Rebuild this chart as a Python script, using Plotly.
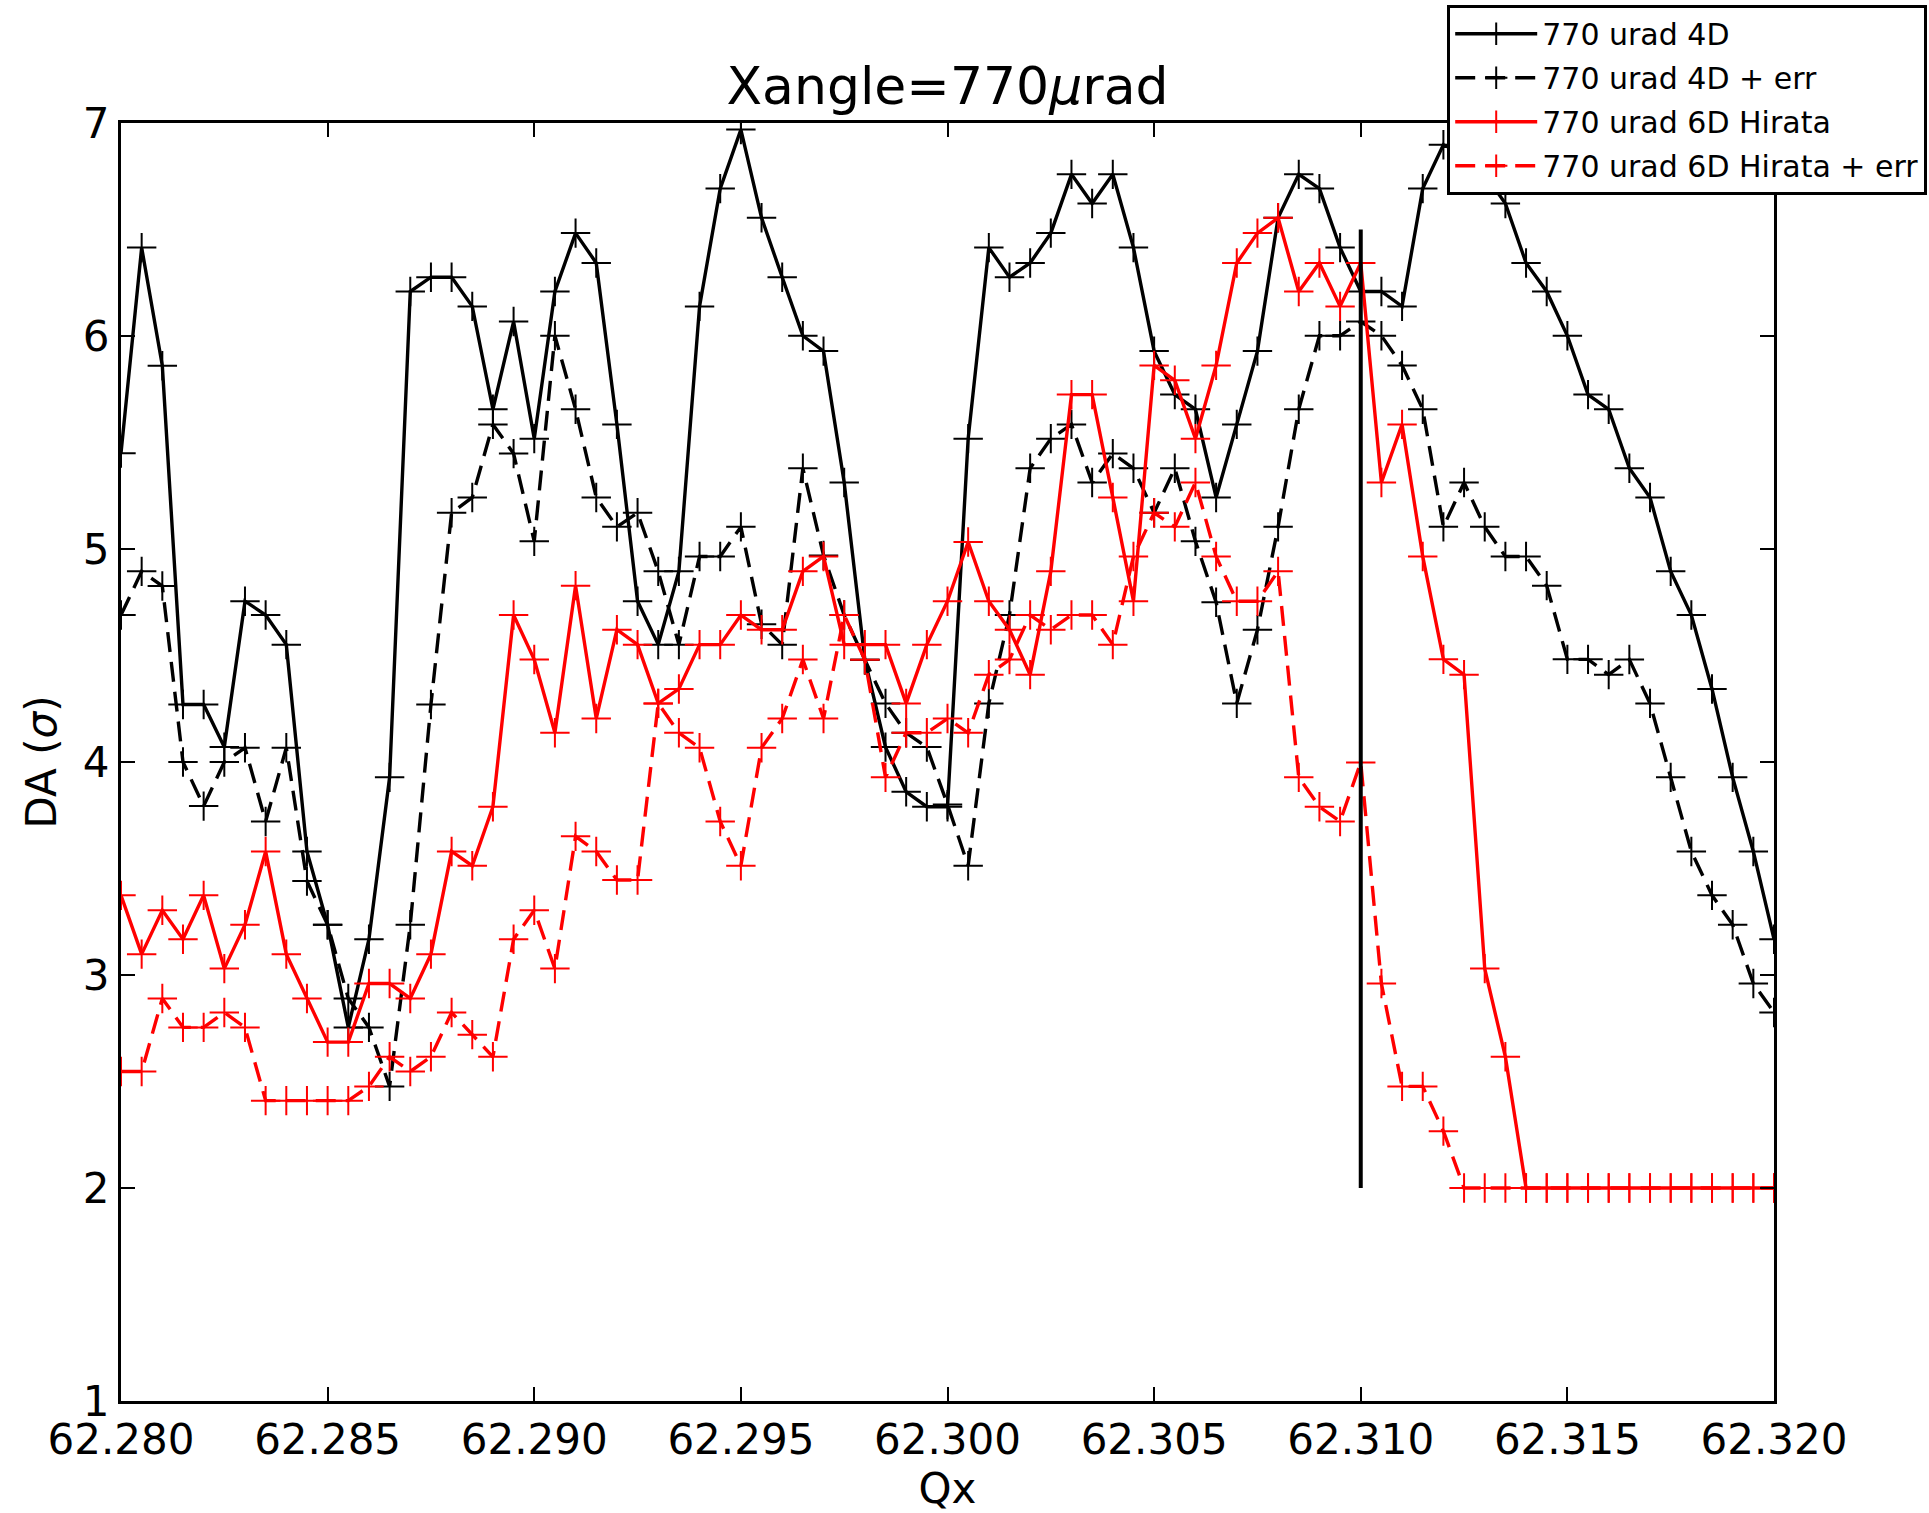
import plotly.graph_objects as go

# ---- data ----
# Qx grid: 62.280 .. 62.320 in steps of 0.0005 (81 points)
qx = [round(62.280 + 0.0005 * i, 4) for i in range(81)]

da_4d = [5.45, 6.415, 5.86, 4.27, 4.27, 4.07, 4.755, 4.69, 4.551, 3.58,
         3.236, 2.754, 3.168, 3.928, 6.209, 6.276, 6.276, 6.139, 5.656, 6.068,
         5.518, 6.209, 6.483, 6.343, 5.585, 4.755, 4.551, 4.895, 6.139, 6.692,
         6.969, 6.555, 6.276, 6.001, 5.929, 5.312, 4.48, 4.07, 3.86, 3.79,
         3.79, 5.518, 6.415, 6.276, 6.343, 6.483, 6.759, 6.622, 6.759, 6.415,
         5.929, 5.725, 5.656, 5.242, 5.585, 5.929, 6.555, 6.759, 6.692, 6.415,
         6.209, 6.209, 6.139, 6.692, 6.898, 6.85, 6.76, 6.622, 6.343, 6.209,
         6.001, 5.725, 5.656, 5.379, 5.242, 4.895, 4.69, 4.343, 3.928, 3.58,
         3.168]

da_4d_err = [4.69, 4.895, 4.826, 4.0, 3.793, 4.0, 4.067, 3.721, 4.067, 3.441,
             3.236, 2.89, 2.754, 2.477, 3.236, 4.27, 5.17, 5.242, 5.585, 5.448,
             5.036, 6.001, 5.656, 5.242, 5.104, 5.17, 4.895, 4.551, 4.965, 4.965,
             5.104, 4.647, 4.551, 5.379, 4.97, 4.69, 4.48, 4.275, 4.137, 4.07,
             3.8, 3.513, 4.275, 4.69, 5.379, 5.518, 5.585, 5.312, 5.448, 5.379,
             5.17, 5.379, 5.036, 4.75, 4.275, 4.621, 5.104, 5.656, 6.001, 6.001,
             6.068, 6.001, 5.862, 5.656, 5.104, 5.312, 5.104, 4.965, 4.965, 4.828,
             4.482, 4.482, 4.41, 4.481, 4.275, 3.928, 3.58, 3.374, 3.236, 2.96,
             2.824]

da_6d = [3.374, 3.098, 3.304, 3.168, 3.374, 3.03, 3.236, 3.58, 3.098, 2.89,
         2.685, 2.685, 2.96, 2.96, 2.89, 3.098, 3.58, 3.513, 3.79, 4.69,
         4.481, 4.137, 4.828, 4.204, 4.621, 4.551, 4.275, 4.343, 4.551, 4.551,
         4.69, 4.621, 4.621, 4.895, 4.965, 4.551, 4.551, 4.551, 4.275, 4.551,
         4.755, 5.033, 4.755, 4.621, 4.41, 4.895, 5.725, 5.725, 5.242, 4.755,
         5.862, 5.792, 5.518, 5.862, 6.343, 6.483, 6.555, 6.209, 6.343, 6.139,
         6.343, 5.312, 5.585, 4.965, 4.482, 4.41, 3.03, 2.616, 2.0, 2.0,
         2.0, 2.0, 2.0, 2.0, 2.0, 2.0, 2.0, 2.0, 2.0, 2.0,
         2.0]

da_6d_err = [2.547, 2.547, 2.89, 2.754, 2.754, 2.824, 2.754, 2.41, 2.41, 2.41,
             2.41, 2.41, 2.477, 2.616, 2.547, 2.616, 2.824, 2.72, 2.616, 3.168,
             3.304, 3.03, 3.651, 3.58, 3.446, 3.446, 4.275, 4.137, 4.067, 3.721,
             3.513, 4.067, 4.204, 4.481, 4.204, 4.69, 4.48, 3.928, 4.137, 4.137,
             4.204, 4.137, 4.41, 4.481, 4.69, 4.621, 4.69, 4.69, 4.551, 4.965,
             5.17, 5.104, 5.312, 4.965, 4.755, 4.755, 4.895, 3.928, 3.79, 3.721,
             3.998, 2.96, 2.477, 2.477, 2.267, 2.0, 2.0, 2.0, 2.0, 2.0,
             2.0, 2.0, 2.0, 2.0, 2.0, 2.0, 2.0, 2.0, 2.0, 2.0,
             2.0]

series_names = ["770 urad 4D", "770 urad 4D + err",
                "770 urad 6D Hirata", "770 urad 6D Hirata + err"]

vline_x = [62.310, 62.310]
vline_y = [2.0, 6.5]

x_ticks = [62.280, 62.285, 62.290, 62.295, 62.300, 62.305, 62.310, 62.315, 62.320]
x_ticktext = ["62.280", "62.285", "62.290", "62.295", "62.300",
              "62.305", "62.310", "62.315", "62.320"]
y_ticks = [1, 2, 3, 4, 5, 6, 7]

# ---- figure ----
FONT = "DejaVu Sans"
fig = go.Figure()

styles = [
    (da_4d, "black", "solid"),
    (da_4d_err, "black", "20px,10px"),
    (da_6d, "red", "solid"),
    (da_6d_err, "red", "20px,10px"),
]

for k, ((vals, col, dash), name) in enumerate(zip(styles, series_names)):
    fig.add_trace(go.Scatter(
        x=qx, y=vals, name=name, mode="lines+markers",
        legendgroup=f"g{k}",
        line=dict(color=col, width=3.4, dash=dash),
        marker=dict(symbol="cross-thin", size=21, color=col,
                    line=dict(color=col, width=2)),
    ))

fig.add_trace(go.Scatter(
    x=vline_x, y=vline_y, mode="lines", showlegend=False,
    line=dict(color="black", width=4), hoverinfo="skip",
))

axis_common = dict(
    showline=True, linecolor="black", linewidth=3, mirror="ticks",
    ticks="inside", ticklen=14, tickwidth=2, tickcolor="black",
    showgrid=False, zeroline=False,
    tickfont=dict(family=FONT, size=42, color="black"),
)

fig.update_layout(
    width=1929, height=1513, autosize=False,
    margin=dict(l=121, r=155, t=123, b=112, autoexpand=False),
    paper_bgcolor="white", plot_bgcolor="white",
    font=dict(family=FONT, color="black"),
    title=dict(text="Xangle=770<i>μ</i>rad", x=0.5, xref="paper",
               y=1 - 86 / 1513, yref="container", yanchor="middle",
               xanchor="center",
               font=dict(family=FONT, size=52, color="black")),
    xaxis=dict(range=[62.280, 62.320], tickvals=x_ticks, ticktext=x_ticktext,
               title=dict(text="Qx", font=dict(family=FONT, size=42), standoff=6),
               **axis_common),
    yaxis=dict(range=[1, 7], tickvals=y_ticks,
               title=dict(text="DA (<i>σ</i>)", font=dict(family=FONT, size=42), standoff=14),
               **axis_common),
    legend=dict(x=0.8023, y=1.0925, xanchor="left", yanchor="top",
                xref="paper", yref="paper",
                bgcolor="white", bordercolor="black", borderwidth=3,
                font=dict(family=FONT, size=30, color="black"),
                itemwidth=82, tracegroupgap=2),
    showlegend=True,
)

fig.write_html("out.html")
